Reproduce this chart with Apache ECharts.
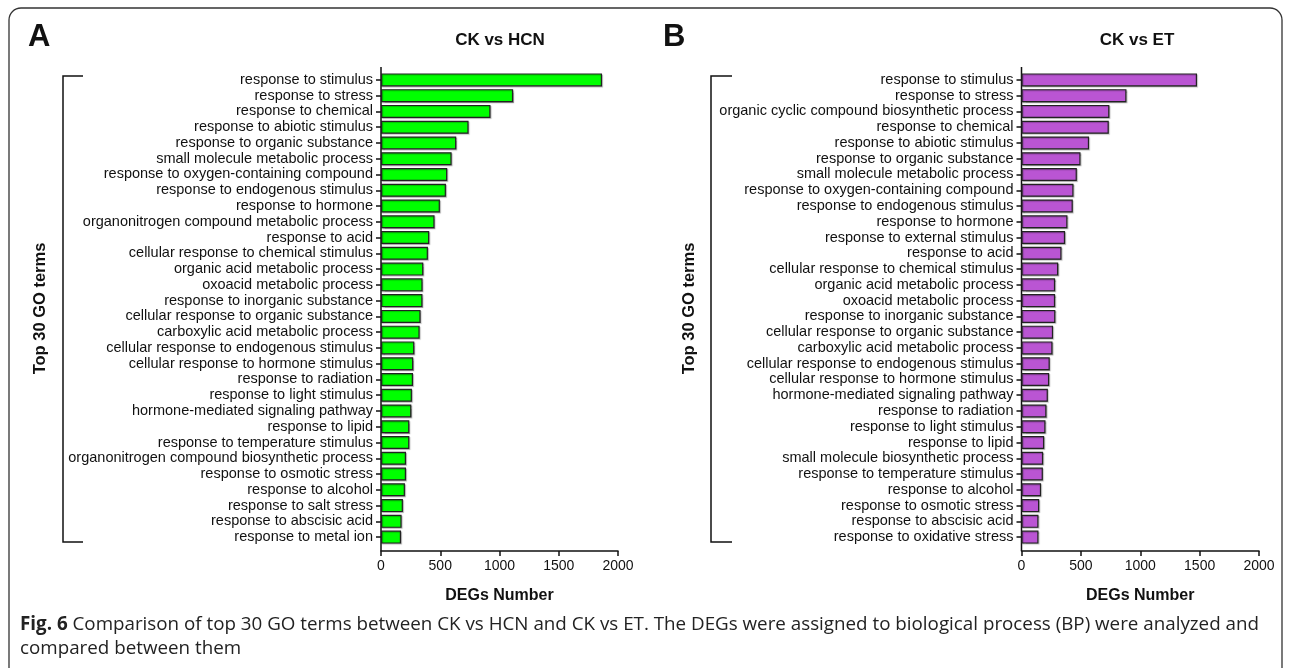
<!DOCTYPE html>
<html>
<head>
<meta charset="utf-8">
<script src="https://cdn.jsdelivr.net/npm/echarts@6/dist/echarts.min.js"></script>
<style>
html,body{margin:0;padding:0;background:#fff;}
#c{width:1290px;height:668px;}
</style>
</head>
<body>
<div id="c"></div>
<script>
// ---- data ----
const termsHCN = [
  "response to stimulus","response to stress","response to chemical","response to abiotic stimulus",
  "response to organic substance","small molecule metabolic process","response to oxygen-containing compound",
  "response to endogenous stimulus","response to hormone","organonitrogen compound metabolic process",
  "response to acid","cellular response to chemical stimulus","organic acid metabolic process",
  "oxoacid metabolic process","response to inorganic substance","cellular response to organic substance",
  "carboxylic acid metabolic process","cellular response to endogenous stimulus","cellular response to hormone stimulus",
  "response to radiation","response to light stimulus","hormone-mediated signaling pathway","response to lipid",
  "response to temperature stimulus","organonitrogen compound biosynthetic process","response to osmotic stress",
  "response to alcohol","response to salt stress","response to abscisic acid","response to metal ion"
];
const valuesHCN = [1865,1115,924,739,635,596,559,548,497,452,407,396,357,351,350,334,326,281,272,270,261,256,239,239,211,211,202,185,174,169];

const termsET = [
  "response to stimulus","response to stress","organic cyclic compound biosynthetic process","response to chemical",
  "response to abiotic stimulus","response to organic substance","small molecule metabolic process",
  "response to oxygen-containing compound","response to endogenous stimulus","response to hormone",
  "response to external stimulus","response to acid","cellular response to chemical stimulus",
  "organic acid metabolic process","oxoacid metabolic process","response to inorganic substance",
  "cellular response to organic substance","carboxylic acid metabolic process","cellular response to endogenous stimulus",
  "cellular response to hormone stimulus","hormone-mediated signaling pathway","response to radiation",
  "response to light stimulus","response to lipid","small molecule biosynthetic process",
  "response to temperature stimulus","response to alcohol","response to osmotic stress",
  "response to abscisic acid","response to oxidative stress"
];
const valuesET = [1478,884,740,735,569,497,466,438,432,387,367,337,309,283,283,285,266,261,238,233,222,210,202,191,182,180,165,149,143,143];

const xTicks = [0,500,1000,1500,2000];
const panelTitles = ["CK vs HCN","CK vs ET"];
const panelLetters = ["A","B"];
const xName = "DEGs Number";
const yName = "Top 30 GO terms";

// ---- chart ----
const FONT = "'Liberation Sans', Arial, sans-serif";
const chart = echarts.init(document.getElementById('c'), null, {renderer:'canvas'});

const grids = [
  {left:381, top:72, width:237, height:473},
  {left:1021.5, top:72, width:237.5, height:473}
];

function xAx(i){
  return {
    type:'value', gridIndex:i, min:xTicks[0], max:xTicks[xTicks.length-1], interval:500, offset:6,
    name:xName, nameLocation:'middle', nameGap:37,
    nameTextStyle:{fontFamily:FONT, fontWeight:'bold', fontSize:16, color:'#111'},
    splitLine:{show:false},
    axisLine:{show:true, lineStyle:{color:'#111', width:1.5}},
    axisTick:{show:true, length:5, lineStyle:{color:'#111', width:1.5}},
    axisLabel:{fontFamily:FONT, fontSize:14, color:'#111', margin:8, formatter:(v)=>String(v)}
  };
}
function yAx(i, terms, gap){
  return {
    type:'category', gridIndex:i, data:terms, inverse:true,
    name:yName, nameLocation:'middle', nameGap:gap, nameRotate:90,
    nameTextStyle:{fontFamily:FONT, fontWeight:'bold', fontSize:16.5, color:'#111'},
    axisLine:{show:false},
    axisTick:{show:true, alignWithLabel:true, length:5, lineStyle:{color:'#111', width:1.5}},
    axisLabel:{fontFamily:FONT, fontSize:14.5, color:'#111', margin:8, interval:0}
  };
}

const gA = grids[0], gB = grids[1];
const axisTop = 67, axisBottom = 551;

chart.setOption({
  animation:false,
  backgroundColor:'#fff',
  grid:grids,
  xAxis:[xAx(0), xAx(1)],
  yAxis:[yAx(0, termsHCN, 332), yAx(1, termsET, 324)],
  title:[
    {text:panelTitles[0], left:495, top:27, textAlign:'center',
     textStyle:{fontFamily:FONT, fontWeight:'bold', fontSize:17, color:'#111'}},
    {text:panelTitles[1], left:1132, top:27, textAlign:'center',
     textStyle:{fontFamily:FONT, fontWeight:'bold', fontSize:17, color:'#111'}}
  ],
  series:[
    {type:'bar', xAxisIndex:0, yAxisIndex:0, data:valuesHCN, barWidth:13,
     itemStyle:{color:'#00ff00', borderColor:'#222', borderWidth:1.2,
       shadowColor:'rgba(0,0,0,0.25)', shadowBlur:1, shadowOffsetX:1, shadowOffsetY:1}},
    {type:'bar', xAxisIndex:1, yAxisIndex:1, data:valuesET, barWidth:13,
     itemStyle:{color:'#ba55d3', borderColor:'#222', borderWidth:1.2,
       shadowColor:'rgba(0,0,0,0.25)', shadowBlur:1, shadowOffsetX:1, shadowOffsetY:1}}
  ],
  graphic:[
    {type:'rect', shape:{x:9, y:8, width:1273, height:720, r:12}, style:{fill:'none', stroke:'#333', lineWidth:1.3}, silent:true},
    {type:'text', left:28, top:22, style:{text:panelLetters[0], font:"bold 31px "+FONT, fill:'#111'}},
    {type:'text', left:663, top:22, style:{text:panelLetters[1], font:"bold 31px "+FONT, fill:'#111'}},
    {type:'line', shape:{x1:gA.left, y1:axisTop, x2:gA.left, y2:axisBottom}, style:{stroke:'#111', lineWidth:1.5}},
    {type:'line', shape:{x1:gB.left, y1:axisTop, x2:gB.left, y2:axisBottom}, style:{stroke:'#111', lineWidth:1.5}},
    {type:'polyline', shape:{points:[[83,76],[63,76],[63,542],[83,542]]}, style:{stroke:'#111', lineWidth:1.5, fill:'none'}},
    {type:'polyline', shape:{points:[[732,76],[711,76],[711,542],[732,542]]}, style:{stroke:'#111', lineWidth:1.5, fill:'none'}},
    {type:'text', left:20, top:613, style:{
      text:'{b|Fig. 6} Comparison of top 30 GO terms between CK vs HCN and CK vs ET. The DEGs were assigned to biological process (BP) were analyzed and\ncompared between them',
      font:"18.8px 'Open Sans', sans-serif", fill:'#222', lineHeight:24,
      rich:{b:{font:"bold 18.8px 'Open Sans', sans-serif", fill:'#222'}}
    }}
  ]
});
</script>
</body>
</html>
